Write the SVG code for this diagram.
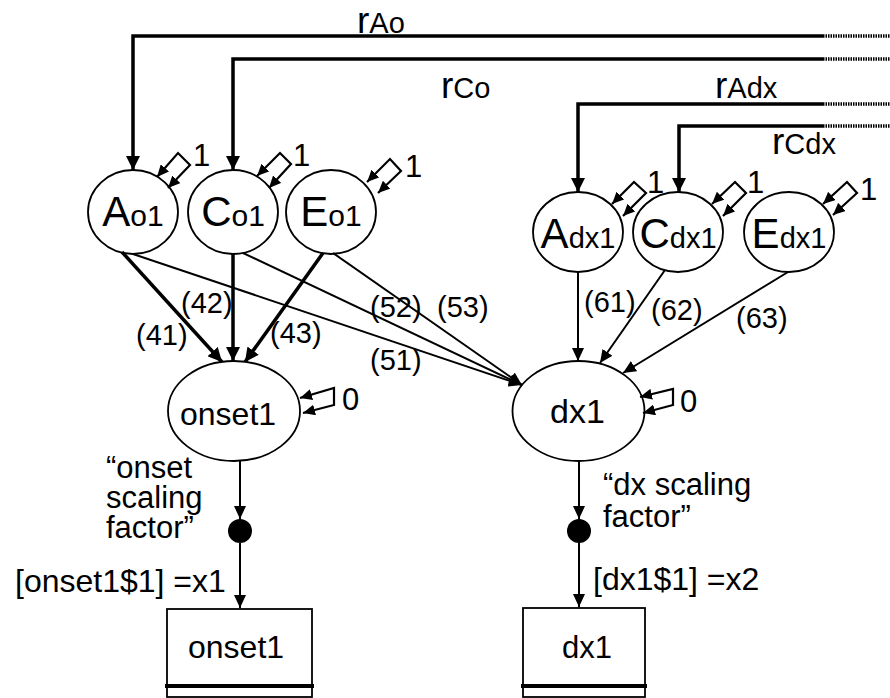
<svg xmlns="http://www.w3.org/2000/svg" width="890" height="698" viewBox="0 0 890 698">
<style>
text{font-family:"Liberation Sans",Arial,sans-serif;fill:#000}
.el{fill:#fff;stroke:#000;stroke-width:1.8}
.thin{fill:none;stroke:#000;stroke-width:2}
.thick{fill:none;stroke:#000;stroke-width:3.5}
.loop{fill:none;stroke:#000;stroke-width:2.2}
.dot{fill:none;stroke:#000;stroke-width:3.5;stroke-dasharray:1.5 1}
.box{fill:#fff;stroke:#000;stroke-width:1.8}
.big{font-size:42px}
.sub{font-size:30px}
.lab{font-size:29px}
.txt{font-size:32px}
.ml{font-size:31px}
.one{font-size:31px}
.rr{font-size:37px}
.rs{font-size:29px}
</style>
<defs>
<marker id="ah" markerUnits="userSpaceOnUse" markerWidth="14" markerHeight="12" refX="13" refY="6" orient="auto-start-reverse"><path d="M0,0 L13,6 L0,12 z" fill="#000"/></marker>
<marker id="ahT" markerUnits="userSpaceOnUse" markerWidth="15" markerHeight="14" refX="14" refY="7" orient="auto-start-reverse"><path d="M0,0 L14,7 L0,14 z" fill="#000"/></marker>
<marker id="ahS" markerUnits="userSpaceOnUse" markerWidth="13" markerHeight="11" refX="12" refY="5.5" orient="auto-start-reverse"><path d="M0,0 L12,5.5 L0,11 z" fill="#000"/></marker>
</defs>

<g id="Ao1"><ellipse class="el" cx="133" cy="212" rx="45" ry="42"/><text x="133" y="226" text-anchor="middle"><tspan class="big">A</tspan><tspan class="sub">o1</tspan></text></g>
<g id="Co1"><ellipse class="el" cx="233" cy="212" rx="45" ry="42"/><text x="233" y="226" text-anchor="middle"><tspan class="big">C</tspan><tspan class="sub">o1</tspan></text></g>
<g id="Eo1"><ellipse class="el" cx="331" cy="212" rx="45" ry="42"/><text x="331" y="226" text-anchor="middle"><tspan class="big">E</tspan><tspan class="sub">o1</tspan></text></g>
<g id="Adx1"><ellipse class="el" cx="578" cy="232" rx="45" ry="40"/><text x="578" y="248" text-anchor="middle"><tspan class="big">A</tspan><tspan style="font-size:29px">dx1</tspan></text></g>
<g id="Cdx1"><ellipse class="el" cx="678" cy="232" rx="45" ry="40"/><text x="678" y="248" text-anchor="middle"><tspan class="big">C</tspan><tspan style="font-size:29px">dx1</tspan></text></g>
<g id="Edx1"><ellipse class="el" cx="789" cy="232" rx="45" ry="40"/><text x="789" y="248" text-anchor="middle"><tspan class="big">E</tspan><tspan style="font-size:29px">dx1</tspan></text></g>
<g id="onset1"><ellipse class="el" cx="234" cy="411" rx="66" ry="50"/><text class="txt" x="180" y="425">onset1</text></g>
<g id="dx1"><ellipse class="el" cx="578.5" cy="411" rx="66" ry="50"/><text x="550" y="423" style="font-size:34px">dx1</text></g>
<g id="dot1"><circle cx="240" cy="531" r="12" fill="#000"/></g>
<g id="dot2"><circle cx="579" cy="531" r="12" fill="#000"/></g>
<g id="box_onset1"><rect class="box" x="167" y="609" width="145" height="88"/><line x1="165" y1="686" x2="314" y2="686" stroke="#000" stroke-width="4"/><text class="txt" x="188" y="658">onset1</text></g>
<g id="box_dx1"><rect class="box" x="523" y="608" width="122" height="89"/><line x1="521" y1="686" x2="647" y2="686" stroke="#000" stroke-width="4"/><text x="562" y="658" style="font-size:31px">dx1</text></g>

<g id="connectors">
<path class="thick" d="M823,36 H133 V170" marker-end="url(#ahT)"/>
<path class="thick" d="M823,59 H233 V170" marker-end="url(#ahT)"/>
<path class="thick" d="M823,104 H578 V192" marker-end="url(#ahT)"/>
<path class="thick" d="M823,126 H679 V192" marker-end="url(#ahT)"/>
<path class="dot" d="M823,36 H890 M823,59 H890 M823,104 H890 M823,126 H890"/>

<path class="loop" d="M157,177 L178,153 L190,165 L168,188" marker-start="url(#ahS)" marker-end="url(#ahS)"/>
<path class="loop" d="M257,176 L280,153 L291,164 L269,188" marker-start="url(#ahS)" marker-end="url(#ahS)"/>
<path class="loop" d="M367,182 L390,159 L401,171 L378,193" marker-start="url(#ahS)" marker-end="url(#ahS)"/>
<path class="loop" d="M612,204 L634,182 L646,193 L623,216" marker-start="url(#ahS)" marker-end="url(#ahS)"/>
<path class="loop" d="M712,204 L735,182 L746,193 L723,216" marker-start="url(#ahS)" marker-end="url(#ahS)"/>
<path class="loop" d="M823,204 L847,182 L857,193 L833,215" marker-start="url(#ahS)" marker-end="url(#ahS)"/>
<path class="loop" d="M300,398 L334,388 L334,405 L303,413" marker-start="url(#ahS)" marker-end="url(#ahS)"/>
<path class="loop" d="M640,397 L673,389 L673,405 L643,413" marker-start="url(#ahS)" marker-end="url(#ahS)"/>

<line class="thick" x1="122" y1="252" x2="222" y2="362" marker-end="url(#ahT)"/>
<line class="thick" x1="233" y1="254" x2="233" y2="361" marker-end="url(#ahT)"/>
<line class="thick" x1="323" y1="253" x2="245" y2="362" marker-end="url(#ahT)"/>
<line class="thin" x1="133" y1="254" x2="522" y2="385" marker-end="url(#ah)"/>
<line class="thin" x1="243" y1="253" x2="522" y2="385" marker-end="url(#ah)"/>
<line class="thin" x1="333" y1="253" x2="522" y2="385" marker-end="url(#ah)"/>
<line class="thin" x1="578" y1="272" x2="578" y2="361" marker-end="url(#ah)"/>
<line class="thin" x1="665" y1="270" x2="600" y2="363" marker-end="url(#ah)"/>
<line class="thin" x1="788" y1="272" x2="623" y2="373" marker-end="url(#ah)"/>
<line class="thin" x1="240" y1="461" x2="240" y2="519" marker-end="url(#ah)"/>
<line class="thin" x1="240" y1="543" x2="240" y2="608" marker-end="url(#ah)"/>
<line class="thin" x1="579" y1="461" x2="579" y2="519" marker-end="url(#ah)"/>
<line class="thin" x1="579" y1="543" x2="579" y2="607" marker-end="url(#ah)"/>
</g>

<g id="labels">
<text x="357" y="33"><tspan class="rr">r</tspan><tspan class="rs">Ao</tspan></text>
<text x="441" y="98"><tspan class="rr">r</tspan><tspan class="rs">Co</tspan></text>
<text x="715" y="98"><tspan class="rr">r</tspan><tspan class="rs">Adx</tspan></text>
<text x="772" y="154"><tspan class="rr">r</tspan><tspan class="rs">Cdx</tspan></text>
<text class="one" x="193" y="166">1</text>
<text class="one" x="293" y="166">1</text>
<text class="one" x="405" y="177">1</text>
<text class="one" x="647" y="193">1</text>
<text class="one" x="747" y="193">1</text>
<text class="one" x="860" y="200">1</text>
<text class="one" x="342" y="410">0</text>
<text class="one" x="680" y="412">0</text>
<text class="lab" x="136" y="345">(41)</text>
<text class="lab" x="181" y="313">(42)</text>
<text class="lab" x="270" y="343">(43)</text>
<text class="lab" x="370" y="317">(52)</text>
<text class="lab" x="437" y="317">(53)</text>
<text class="lab" x="370" y="370">(51)</text>
<text class="lab" x="584" y="312">(61)</text>
<text class="lab" x="651" y="320">(62)</text>
<text class="lab" x="736" y="328">(63)</text>
<text class="ml" x="106" y="478">“onset<tspan x="106" dy="30">scaling</tspan><tspan x="106" dy="30">factor”</tspan></text>
<text class="txt" x="15" y="592">[onset1$1] =x1</text>
<text class="ml" x="603" y="495">“dx scaling<tspan x="603" dy="32">factor”</tspan></text>
<text class="txt" x="593" y="590">[dx1$1] =x2</text>
</g>
</svg>
